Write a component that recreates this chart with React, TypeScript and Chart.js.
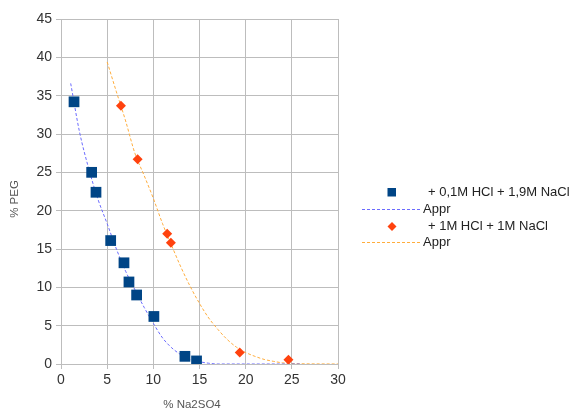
import React, { useEffect, useRef } from 'react';
import { Chart, registerables } from 'chart.js';

Chart.register(...registerables);

const xTickValues = [0, 5, 10, 15, 20, 25, 30];
const yTickValues = [0, 5, 10, 15, 20, 25, 30, 35, 40, 45];

const series1Label = '+ 0,1M HCl + 1,9M NaCl';
const series1X = [1.41, 3.32, 3.79, 5.38, 6.82, 7.36, 8.19, 10.06, 13.42, 14.68];
const series1Y = [34.2, 25.0, 22.4, 16.1, 13.2, 10.7, 9.0, 6.2, 1.0, 0.4];

const series2Label = '+ 1M HCl + 1M NaCl';
const series2X = [6.49, 8.3, 11.5, 11.9, 19.36, 24.63];
const series2Y = [33.7, 26.7, 17.0, 15.8, 1.5, 0.56];

const appr1Label = 'Appr';
const appr1X = [1.05, 2.0, 3.0, 4.0, 5.0, 6.0, 7.0, 8.0, 9.0, 10.0, 11.0, 12.0, 13.0, 14.0, 15.0, 16.0, 17.0, 26.0];
const appr1Y = [36.6, 30.3, 25.5, 21.5, 18.3, 15.0, 12.1, 9.7, 7.4, 5.3, 3.4, 2.1, 1.2, 0.6, 0.3, 0.1, 0, 0];

const appr2Label = 'Appr';
const appr2X = [5.0, 6.0, 7.0, 8.0, 9.0, 10.0, 11.0, 12.0, 13.0, 14.0, 15.0, 16.0, 17.0, 18.0, 19.0, 20.0, 21.0, 22.0, 23.0, 24.0, 25.0, 30.0];
const appr2Y = [39.4, 35.5, 31.7, 27.5, 24.6, 21.6, 18.3, 15.4, 12.6, 10.1, 7.9, 6.0, 4.5, 3.2, 2.2, 1.5, 1.0, 0.6, 0.35, 0.15, 0.05, 0];

const xTitle = '% Na2SO4';
const yTitle = '% PEG';

const BLUE = '#004586';
const ORANGE = '#ff420e';
const BLUE_LINE = '#6b6bff';
const ORANGE_LINE = '#ffad3d';
const FONT = "'Liberation Sans', Arial, sans-serif";

const zip = (xs: number[], ys: number[]) => xs.map((x, i) => ({ x, y: ys[i] }));

const overlayPlugin = {
  id: 'overlay',
  afterDraw(chart: any) {
    const ctx = chart.ctx as CanvasRenderingContext2D;
    ctx.save();
    // axis titles
    ctx.fillStyle = '#555';
    ctx.font = `11.5px ${FONT}`;
    ctx.textAlign = 'center';
    ctx.textBaseline = 'middle';
    ctx.fillText(xTitle, 192, 405);
    ctx.save();
    ctx.translate(15, 199);
    ctx.rotate(-Math.PI / 2);
    ctx.fillText(yTitle, 0, 0);
    ctx.restore();

    // legend
    const lx = 428;
    ctx.textAlign = 'left';
    ctx.font = `13px ${FONT}`;
    // series 1 marker
    ctx.fillStyle = BLUE;
    ctx.fillRect(387.5, 188, 8.5, 8.5);
    ctx.fillStyle = '#222';
    ctx.fillText(series1Label, lx, 192.5);
    // appr 1
    ctx.strokeStyle = BLUE_LINE;
    ctx.lineWidth = 1;
    ctx.setLineDash([3, 2]);
    ctx.beginPath();
    ctx.moveTo(362, 209.5);
    ctx.lineTo(421, 209.5);
    ctx.stroke();
    ctx.fillText(appr1Label, 423, 209.5);
    // series 2 marker
    ctx.setLineDash([]);
    ctx.fillStyle = ORANGE;
    ctx.beginPath();
    ctx.moveTo(392, 222);
    ctx.lineTo(396.5, 226.5);
    ctx.lineTo(392, 231);
    ctx.lineTo(387.5, 226.5);
    ctx.closePath();
    ctx.fill();
    ctx.fillStyle = '#222';
    ctx.fillText(series2Label, lx, 226.5);
    // appr 2
    ctx.strokeStyle = ORANGE_LINE;
    ctx.setLineDash([3, 2]);
    ctx.beginPath();
    ctx.moveTo(362, 242.5);
    ctx.lineTo(421, 242.5);
    ctx.stroke();
    ctx.fillText(appr2Label, 423, 242.5);
    ctx.restore();
  },
};

export default function App() {
  const canvasRef = useRef<HTMLCanvasElement | null>(null);

  useEffect(() => {
    const canvas = canvasRef.current;
    if (!canvas) return;
    const chart = new Chart(canvas, {
      type: 'scatter',
      data: {
        datasets: [
          {
            label: series1Label,
            data: zip(series1X, series1Y),
            pointStyle: 'rect',
            pointRadius: 7.6,
            pointBackgroundColor: BLUE,
            pointBorderColor: BLUE,
            pointBorderWidth: 0,
            showLine: false,
            order: 0,
          },
          {
            label: series2Label,
            data: zip(series2X, series2Y),
            pointStyle: 'rectRot',
            pointRadius: 5,
            pointBackgroundColor: ORANGE,
            pointBorderColor: ORANGE,
            pointBorderWidth: 0,
            showLine: false,
            order: 0,
          },
          {
            label: appr1Label,
            data: zip(appr1X, appr1Y),
            showLine: true,
            pointRadius: 0,
            borderColor: BLUE_LINE,
            borderWidth: 1,
            borderDash: [3, 2],
            cubicInterpolationMode: 'monotone',
            order: 2,
          },
          {
            label: appr2Label,
            data: zip(appr2X, appr2Y),
            showLine: true,
            pointRadius: 0,
            borderColor: ORANGE_LINE,
            borderWidth: 1,
            borderDash: [3, 2],
            cubicInterpolationMode: 'monotone',
            order: 2,
          },
        ],
      },
      options: {
        responsive: false,
        animation: false,
        layout: { padding: { top: 19, right: 232, left: 0, bottom: 0 } },
        plugins: {
          legend: { display: false },
          tooltip: { enabled: false },
          title: { display: false },
        },
        scales: {
          x: {
            type: 'linear',
            min: 0,
            max: 30,
            afterFit: (s: any) => {
              s.height = 46;
            },
            afterBuildTicks: (s: any) => {
              s.ticks = xTickValues.map((v) => ({ value: v }));
            },
            ticks: {
              color: '#333',
              font: { family: FONT, size: 14 },
              padding: 3,
              maxRotation: 0,
            },
            grid: { color: '#bdbdbd', lineWidth: 1, tickLength: 5 },
            border: { color: '#bdbdbd' },
          },
          y: {
            type: 'linear',
            min: 0,
            max: 45,
            afterFit: (s: any) => {
              s.width = 61;
            },
            afterBuildTicks: (s: any) => {
              s.ticks = yTickValues.map((v) => ({ value: v }));
            },
            ticks: {
              color: '#333',
              font: { family: FONT, size: 14 },
              padding: 4,
            },
            grid: { color: '#bdbdbd', lineWidth: 1, tickLength: 5 },
            border: { color: '#bdbdbd' },
          },
        },
      } as any,
      plugins: [overlayPlugin],
    });
    return () => chart.destroy();
  }, []);

  return (
    <div style={{ position: 'absolute', left: 0, top: 0, width: 570, height: 410, background: '#fff' }}>
      <canvas ref={canvasRef} width={570} height={410} style={{ width: 570, height: 410, display: 'block' }} />
    </div>
  );
}
